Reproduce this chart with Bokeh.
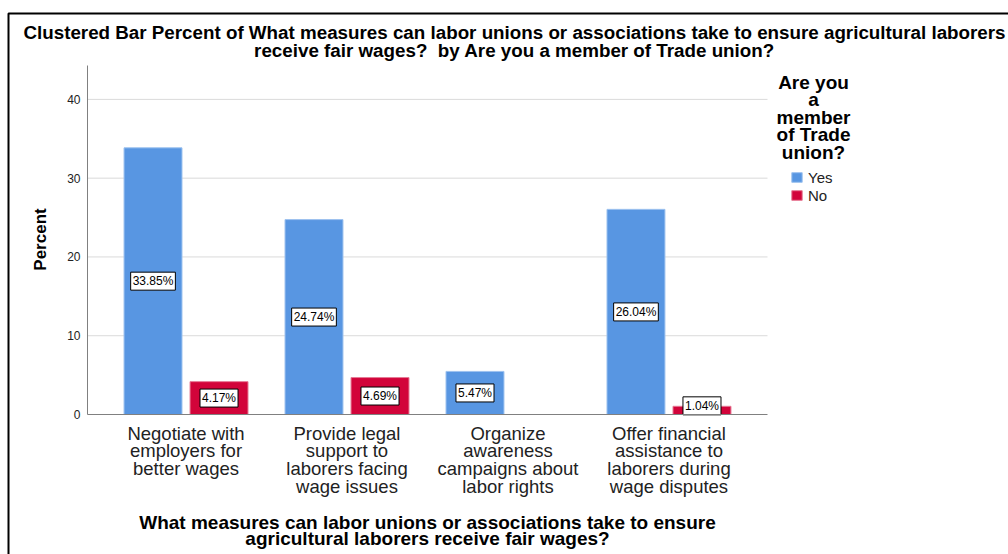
import math
from bokeh.plotting import figure
from bokeh.models import (Range1d, FixedTicker, Label, Legend, LegendItem,
                          ColumnDataSource, BoxAnnotation)
from bokeh.core.properties import value
from bokeh.embed import file_html
from bokeh.resources import INLINE

# ---- data ----
categories = [
    "Negotiate with\nemployers for\nbetter wages",
    "Provide legal\nsupport to\nlaborers facing\nwage issues",
    "Organize\nawareness\ncampaigns about\nlabor rights",
    "Offer financial\nassistance to\nlaborers during\nwage disputes",
]
groups = ["Yes", "No"]
yes_values = [33.85, 24.74, 5.47, 26.04]
no_values = [4.17, 4.69, 0.0, 1.04]
y_ticks = [0, 10, 20, 30, 40]

title_lines = [
    "Clustered Bar Percent of What measures can labor unions or associations take to ensure agricultural laborers",
    "receive fair wages?\u00a0 by Are you a member of Trade union?",
]
xtitle_lines = [
    "What measures can labor unions or associations take to ensure",
    "agricultural laborers receive fair wages?",
]
ytitle = "Percent"
legend_title_lines = ["Are you", "a", "member", "of Trade", "union?"]

FONT = "Liberation Sans"
YES_COLOR = "#5896E2"
NO_COLOR = "#D2043A"

# ---- canvas geometry (pixels) ----
W, H = 1008, 554
FL, FR, FT, FB = 87, 767, 65, 414      # plot area edges on canvas
XLO, XHI = -0.612, 3.612               # data extent of plot area
YLO, YHI = 0.0, 44.3

xs = (FR - FL) / (XHI - XLO)
ys = (FB - FT) / (YHI - YLO)
x_range = Range1d(XLO - FL / xs, XHI + (W - FR) / xs)
y_range = Range1d(YLO - (H - FB) / ys, YHI + FT / ys)

p = figure(width=W, height=H, output_backend="svg", toolbar_location=None,
           x_range=x_range, y_range=y_range, min_border=0)
p.title.visible = False
p.outline_line_color = None
p.background_fill_color = "white"
p.border_fill_color = "white"
p.xgrid.visible = False
p.ygrid.visible = False

def sx(px):  # canvas x -> screen units (frame = canvas)
    return px

def sy(py):  # canvas y (top-down) -> screen units (bottom-up)
    return H - py

# gridlines (from tick values)
grid_y = [t for t in y_ticks if t > 0]
p.segment(x0=[XLO] * len(grid_y), x1=[XHI] * len(grid_y), y0=grid_y, y1=grid_y,
          line_color="#DADADA", line_width=1)

off, bw = 0.205, 0.36
idx = list(range(len(categories)))

yes_src = ColumnDataSource(dict(
    x=[i - off for i in idx], top=yes_values,
    ly=[max(v / 2, 1.1) for v in yes_values],
    lab=[f"{v:.2f}%" for v in yes_values]))
no_keep = [i for i in idx if no_values[i] > 0]
no_src = ColumnDataSource(dict(
    x=[i + off for i in no_keep], top=[no_values[i] for i in no_keep],
    ly=[max(no_values[i] / 2, 1.1) for i in no_keep],
    lab=[f"{no_values[i]:.2f}%" for i in no_keep]))

r_yes = p.vbar(x="x", top="top", width=bw, bottom=0, source=yes_src,
               fill_color=YES_COLOR, line_color="#9DC2EF", line_width=1)
r_no = p.vbar(x="x", top="top", width=bw, bottom=0, source=no_src,
              fill_color=NO_COLOR, line_color="#E67A95", line_width=1)

for src in (yes_src, no_src):
    p.text(x="x", y="ly", text="lab", source=src, text_align="center",
           text_baseline="middle", text_font=value(FONT),
           text_font_size="12px", text_color="black",
           background_fill_color="white", border_line_color="black",
           border_line_width=1, padding=2)

# axes placed at fixed data locations
p.xaxis.fixed_location = YLO
p.xaxis.bounds = (XLO, XHI)
p.xaxis.ticker = FixedTicker(ticks=idx)
p.xaxis.major_label_overrides = {i: c for i, c in zip(idx, categories)}
p.xaxis.major_label_text_font = FONT
p.xaxis.major_label_text_font_size = "18.5px"
p.xaxis.major_label_text_color = "#222222"
p.xaxis.major_label_text_line_height = 0.85
p.xaxis.major_tick_out = 0
p.xaxis.major_tick_in = 0
p.xaxis.minor_tick_out = 0
p.xaxis.minor_tick_in = 0
p.xaxis.major_label_standoff = 8
p.xaxis.axis_line_color = "#808080"

p.yaxis.fixed_location = XLO
p.yaxis.bounds = (YLO, YHI)
p.yaxis.ticker = FixedTicker(ticks=y_ticks)
p.yaxis.major_label_text_font = FONT
p.yaxis.major_label_text_font_size = "12px"
p.yaxis.major_label_text_color = "#222222"
p.yaxis.major_tick_out = 0
p.yaxis.major_tick_in = 0
p.yaxis.minor_tick_out = 0
p.yaxis.minor_tick_in = 0
p.yaxis.major_label_standoff = 7
p.yaxis.axis_line_color = "#808080"

def add_label(text, cx, cy, size, bold=True, color="black", angle=0.0):
    p.add_layout(Label(x=sx(cx), y=sy(cy), x_units="screen", y_units="screen",
                       text=text, text_align="center", text_baseline="middle",
                       text_font=FONT, text_font_size=size, angle=angle,
                       text_font_style="bold" if bold else "normal",
                       text_color=color))

for line, cy in zip(title_lines, [32, 50]):
    add_label(line, 514, cy, "18.8px")
for line, cy in zip(xtitle_lines, [522, 538]):
    add_label(line, 427, cy, "19px")
for line, cy in zip(legend_title_lines, [82, 99, 117, 134, 152]):
    add_label(line, 813, cy, "19px")
add_label(ytitle, 40, 239, "17px", angle=math.pi / 2)

legend = Legend(items=[LegendItem(label=groups[0], renderers=[r_yes]),
                       LegendItem(label=groups[1], renderers=[r_no])],
                location=(sx(790), sy(204)), padding=0, margin=0, spacing=0,
                label_height=18, glyph_height=12, glyph_width=13,
                label_standoff=5, border_line_color=None,
                background_fill_alpha=0, label_text_font=FONT,
                label_text_font_size="15px", label_text_color="#222222")
p.add_layout(legend)

# outer border
p.add_layout(BoxAnnotation(left=sx(8), right=sx(W + 20), top=sy(13),
                           bottom=sy(H + 20),
                           left_units="screen", right_units="screen",
                           top_units="screen", bottom_units="screen",
                           fill_alpha=0, line_color="black", line_alpha=1.0,
                           line_width=2))

open("out.html", "w").write(file_html(p, INLINE))
